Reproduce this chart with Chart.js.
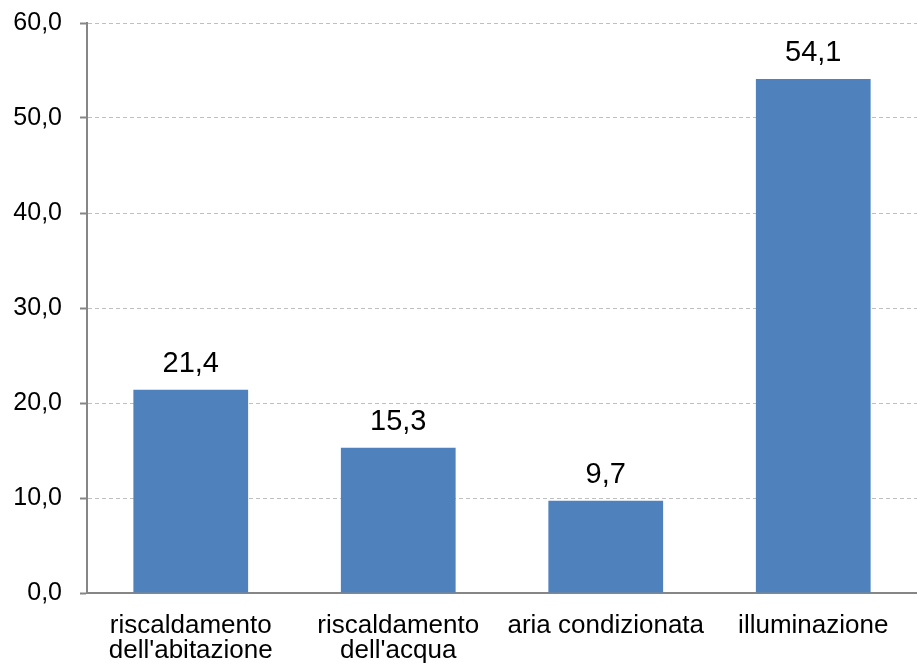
<!DOCTYPE html>
<html>
<head>
<meta charset="utf-8">
<script src="https://cdn.jsdelivr.net/npm/chart.js@4.4.0/dist/chart.umd.min.js"></script>
<style>
  html, body { margin: 0; padding: 0; background: #fff; }
  #wrap { width: 917px; height: 666px; }
</style>
</head>
<body>
<div id="wrap"><canvas id="cnv_chart"></canvas></div>
<script>
const categories = [
    ['riscaldamento', "dell'abitazione"],
    ['riscaldamento', "dell'acqua"],
    'aria condizionata',
    'illuminazione'
]
const values = [21.4, 15.3, 9.7, 54.1]
const yTicks = [0, 10, 20, 30, 40, 50, 60]

const fmt = v => v.toFixed(1).replace('.', ',')
const FONT = 'Arial, "Liberation Sans", sans-serif'

// value labels over each bar
const barValues = {
    id: 'barValues',
    afterDatasetsDraw(chart) {
        const ctx = chart.ctx
        ctx.save()
        ctx.font = '29px ' + FONT
        ctx.fillStyle = '#000'
        ctx.textAlign = 'center'
        ctx.textBaseline = 'alphabetic'
        chart.getDatasetMeta(0).data.forEach((bar, i) => {
            ctx.fillText(fmt(values[i]), bar.x, bar.y - 18)
        })
        ctx.restore()
    }
}

const ctx = document.getElementById('cnv_chart').getContext('2d')
const myChart = new Chart(ctx, {
    type: 'bar',
    plugins: [barValues],
    data: {
        labels: categories,
        datasets: [{
            data: values,
            backgroundColor: '#4F81BD',
            borderWidth: 0,
            categoryPercentage: 1,
            barPercentage: 0.553
        }]
    },
    options: {
        responsive: true,
        maintainAspectRatio: false,
        animation: false,
        layout: { padding: { top: 23, right: 0, left: 0, bottom: 0 } },
        plugins: {
            legend: { display: false },
            tooltip: { enabled: false }
        },
        scales: {
            x: {
                grid: { display: false },
                border: { display: true, color: '#868686', width: 2 },
                ticks: {
                    color: '#000',
                    font: { family: FONT, size: 26, lineHeight: 0.97 },
                    maxRotation: 0,
                    autoSkip: false,
                    padding: 12
                },
                afterFit: scale => {
                    scale.height = 73
                    scale.paddingLeft = 0
                    scale.paddingRight = 0
                }
            },
            y: {
                min: 0,
                max: 60,
                afterBuildTicks: scale => { scale.ticks = yTicks.map(v => ({ value: v })) },
                grid: {
                    color: '#BFBFBF',
                    lineWidth: 1,
                    drawTicks: true,
                    tickLength: 7,
                    tickColor: '#868686',
                    tickWidth: 2,
                    tickBorderDash: []
                },
                border: { display: true, color: '#868686', width: 2, dash: [4, 3] },
                ticks: {
                    color: '#000',
                    font: { family: FONT, size: 25 },
                    padding: 18,
                    callback: v => fmt(v)
                },
                afterFit: scale => {
                    scale.width = 87
                    scale.paddingTop = 0
                    scale.paddingBottom = 0
                }
            }
        }
    }
})
</script>
</body>
</html>
